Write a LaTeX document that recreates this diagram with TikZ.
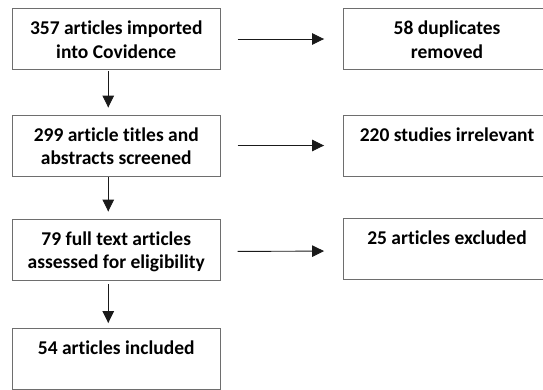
\documentclass[tikz,border=0pt]{standalone}
\usepackage{fontspec}
\setsansfont{Carlito}[Ligatures={NoCommon}]
\usepackage{tikz}
\usetikzlibrary{arrows.meta,positioning}
\usepackage{xcolor}
\definecolor{boxgray}{HTML}{6E6E6E}
\definecolor{arrowblack}{HTML}{1A1A1A}
\newcommand{\stagetext}[1]{\parbox[c][41pt][t]{196pt}{\centering\strut #1}}

\begin{document}
\begin{tikzpicture}[
  x=1pt, y=-1pt,
  font=\sffamily\bfseries\fontsize{19.5}{23.5}\selectfont,
  >={Triangle[length=12pt,width=11.5pt]},
  stagebox/.style={draw=boxgray, line width=0.9pt, fill=white, inner xsep=6pt, inner ysep=10pt},
  flowarrow/.style={->, line width=0.9pt, draw=arrowblack}
]
  \useasboundingbox (0,0) rectangle (543,389);

  % Left column: screening stages
  \node[stagebox] (imported) at (116.25,39) {\stagetext{357 articles imported\\into Covidence}};
  \node[stagebox] (screened) at (116.25,145.5) {\stagetext{299 article titles and\\abstracts screened}};
  \node[stagebox] (assessed) at (116.25,249.5) {\stagetext{79 full text articles\\assessed for eligibility}};
  \node[stagebox] (included) at (116.25,359) {\stagetext{54 articles included}};

  % Right column: removals
  \node[stagebox] (duplicates) at (447,39) {\stagetext{58 duplicates\\removed}};
  \node[stagebox] (irrelevant) at (447,145.5) {\stagetext{220 studies irrelevant}};
  \node[stagebox] (excluded) at (447,249) {\stagetext{25 articles excluded}};

  % Downward flow
  \draw[flowarrow, shorten <=1pt, shorten >=7pt] ([xshift=-8pt]imported.south) -- ([xshift=-8pt]screened.north);
  \draw[flowarrow, shorten <=1pt, shorten >=7pt] ([xshift=-8pt]screened.south) -- ([xshift=-8pt]assessed.north);
  \draw[flowarrow, shorten <=4pt, shorten >=5pt] ([xshift=-8pt]assessed.south) -- ([xshift=-8pt]included.north);

  % Sideways flow
  \draw[flowarrow, shorten <=17pt, shorten >=18.5pt] (imported.east) -- (duplicates.west);
  \draw[flowarrow, shorten <=17pt, shorten >=18.5pt] (screened.east) -- (irrelevant.west);
  \draw[flowarrow, shorten <=17pt, shorten >=18.5pt] ([yshift=-2pt]assessed.east) -- ([yshift=-2pt]excluded.west);

\end{tikzpicture}
\end{document}
